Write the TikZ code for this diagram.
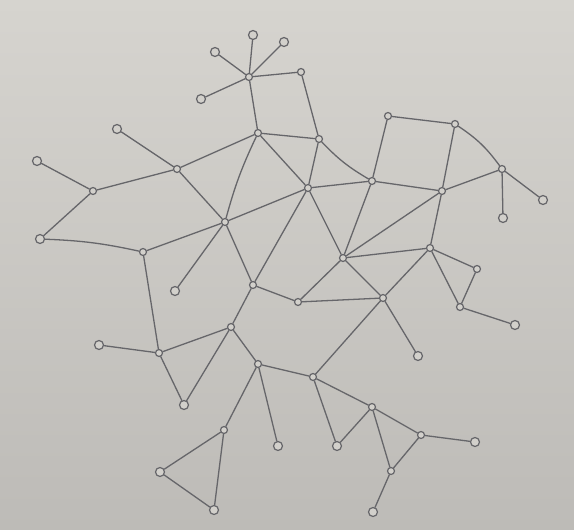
\documentclass[tikz,border=0pt]{standalone}
\usepackage{tikz}
\definecolor{paperTop}{HTML}{D6D4CF}
\definecolor{paperBot}{HTML}{BDBBB7}
\definecolor{pencil}{HTML}{66666A}
\definecolor{dotFill}{HTML}{D2D0CB}
\tikzset{
  vtx/.style={circle,draw=pencil,fill=dotFill,line width=1.2pt,inner sep=0pt,minimum size=7pt},
  leaf/.style={vtx,minimum size=9pt},
  edg/.style={draw=pencil,line width=1.3pt,line cap=round},
}
\begin{document}
\begin{tikzpicture}[x=1pt,y=-1pt]
  \shade[top color=paperTop,bottom color=paperBot] (0,0) rectangle (574,530);
  \useasboundingbox (0,0) rectangle (574,530);

  % top cluster
  \node[leaf] (a1) at (253,35)  {};
  \node[leaf] (a2) at (284,42)  {};
  \node[leaf] (a3) at (215,52)  {};
  \node[leaf] (a4) at (201,99)  {};
  \node[vtx]  (h)  at (249,77)  {};
  \node[vtx]  (b)  at (301,72)  {};
  \node[vtx]  (c)  at (258,133) {};
  \node[vtx]  (d)  at (319,139) {};
  \node[vtx]  (e)  at (308,188) {};
  \node[vtx]  (f)  at (372,181) {};
  \node[vtx]  (g)  at (388,116) {};
  \node[vtx]  (i)  at (455,124) {};
  \node[vtx]  (j)  at (442,191) {};
  \node[vtx]  (k)  at (502,169) {};
  \node[leaf] (kl) at (543,200) {};
  \node[leaf] (km) at (503,218) {};

  % left side
  \node[leaf] (n)  at (37,161)  {};
  \node[vtx]  (o)  at (93,191)  {};
  \node[leaf] (p)  at (117,129) {};
  \node[vtx]  (q)  at (177,169) {};
  \node[leaf] (r)  at (40,239)  {};
  \node[vtx]  (s)  at (143,252) {};
  \node[vtx]  (t)  at (225,222) {};
  \node[leaf] (u)  at (175,291) {};
  \node[vtx]  (v)  at (253,285) {};

  % middle and right
  \node[vtx]  (w)  at (343,258) {};
  \node[vtx]  (x)  at (430,248) {};
  \node[vtx]  (y)  at (477,269) {};
  \node[vtx]  (z)  at (460,307) {};
  \node[leaf] (zl) at (515,325) {};
  \node[vtx]  (bb) at (298,302) {};
  \node[vtx]  (aa) at (383,298) {};
  \node[leaf] (al) at (418,356) {};
  \node[vtx]  (cc) at (313,377) {};

  % lower left
  \node[vtx]  (dd) at (159,353) {};
  \node[leaf] (dl) at (99,345)  {};
  \node[vtx]  (ee) at (231,327) {};
  \node[leaf] (ff) at (184,405) {};
  \node[vtx]  (gg) at (258,364) {};
  \node[vtx]  (hh) at (224,430) {};
  \node[leaf] (ii) at (278,446) {};
  \node[leaf] (jj) at (160,472) {};
  \node[leaf] (kk) at (214,510) {};

  % lower right
  \node[leaf] (ll) at (337,446) {};
  \node[vtx]  (mm) at (372,407) {};
  \node[vtx]  (nn) at (421,435) {};
  \node[leaf] (oo) at (475,442) {};
  \node[vtx]  (pp) at (391,471) {};
  \node[leaf] (qq) at (373,512) {};

  \foreach \a/\b in {h/a1,h/a2,h/a3,h/a4,h/b,h/c,b/d,c/d,c/e,d/e,e/f,g/f,g/i,i/j,j/f,j/k,k/kl,k/km,
                     n/o,p/q,o/q,q/c,o/r,s/t,q/t,t/e,t/u,t/v,e/v,e/w,f/w,w/j,w/x,j/x,
                     x/y,y/z,x/z,z/zl,x/aa,w/aa,aa/al,v/bb,bb/w,bb/aa,aa/cc,
                     s/dd,dd/dl,v/ee,dd/ee,dd/ff,ee/ff,ee/gg,gg/cc,gg/hh,gg/ii,hh/jj,jj/kk,hh/kk,
                     cc/ll,cc/mm,mm/ll,mm/nn,nn/oo,mm/pp,nn/pp,pp/qq}
    {\draw[edg] (\a)--(\b);}
  \draw[edg] (d) to[bend right=8] (f);
  \draw[edg] (i) to[bend left=10] (k);
  \draw[edg] (r) to[bend left=5] (s);
  \draw[edg] (c) to[bend right=5] (t);
\end{tikzpicture}
\end{document}
